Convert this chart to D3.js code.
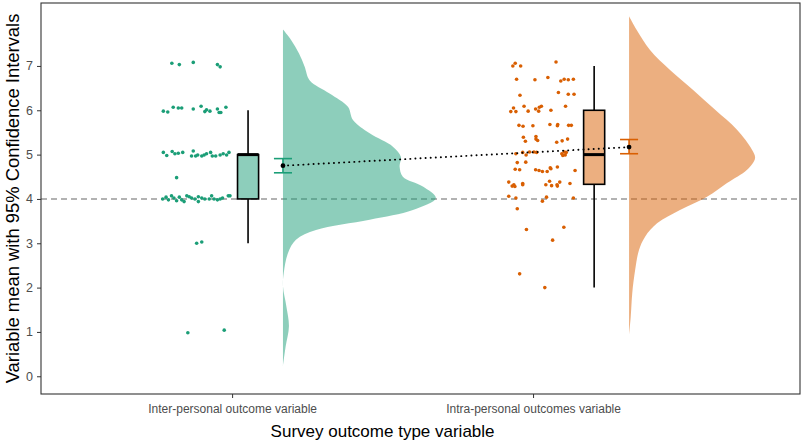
<!DOCTYPE html>
<html>
<head>
<meta charset="utf-8">
<script src="https://cdn.jsdelivr.net/npm/d3@7"></script>
<style>
  body { margin: 0; background: #fff; }
  svg { font-family: "Liberation Sans", Arial, sans-serif; }
</style>
</head>
<body>
<script>
// groups and their colours
var groups = ["Inter-personal outcome variable", "Intra-personal outcomes variable"];
var colors = ["#1b9e77", "#d95f02"];

// raw scores, [jitter (-1..1), score]
var interPoints = [
  [-0.71, 7.06], [-0.49, 7.03], [-0.08, 7.08], [0.63, 7.03], [0.71, 6.98],
  [-0.96, 5.98], [-0.83, 5.96], [-0.67, 6.07], [-0.52, 6.05], [-0.42, 6.05], [-0.08, 6.03],
  [0.15, 6.09], [0.26, 5.97], [0.31, 6.01], [0.41, 5.98], [0.63, 6.03], [0.68, 5.95],
  [0.73, 5.95], [0.88, 6.07],
  [-0.96, 5.05], [-0.86, 4.98], [-0.70, 5.07], [-0.62, 5.02], [-0.52, 5.03], [-0.39, 5.05],
  [-0.08, 5.08], [-0.13, 4.97], [-0.01, 4.97], [0.05, 4.99], [0.17, 4.97], [0.24, 4.99],
  [0.31, 5.02], [0.43, 5.05], [0.48, 4.97], [0.58, 4.97], [0.71, 4.99], [0.80, 5.02],
  [0.90, 4.99], [0.97, 5.05],
  [-0.57, 4.48],
  [-0.98, 4.00], [-0.88, 4.04], [-0.81, 3.98], [-0.72, 4.07], [-0.65, 4.02], [-0.57, 3.96],
  [-0.49, 4.04], [-0.42, 3.98], [-0.35, 3.94], [-0.27, 4.07], [-0.20, 4.05], [-0.13, 4.02],
  [-0.03, 4.00], [0.07, 4.05], [0.07, 3.94], [0.17, 4.02], [0.26, 4.00], [0.39, 4.00],
  [0.46, 4.07], [0.53, 4.00], [0.63, 3.98], [0.71, 4.00], [0.78, 4.02], [0.95, 4.07], [1.00, 4.07],
  [0.02, 3.00], [0.17, 3.03],
  [-0.24, 0.98], [0.83, 1.04]
];
var intraPoints = [
  [-0.79, 7.06], [-0.86, 7.00], [-0.63, 7.00], [0.41, 7.09],
  [-0.75, 6.70], [-0.21, 6.69], [0.17, 6.74], [0.55, 6.66], [0.65, 6.70], [0.77, 6.69], [0.92, 6.70],
  [-0.65, 6.34], [0.48, 6.40], [0.77, 6.36], [0.94, 6.36],
  [-0.84, 6.05], [-0.92, 5.97], [-0.77, 5.97], [-0.53, 6.09], [-0.41, 5.98], [-0.19, 6.03],
  [-0.08, 6.07], [-0.02, 6.09], [-0.10, 5.98], [0.26, 6.00], [0.69, 6.09],
  [-0.68, 5.66], [-0.56, 5.64], [-0.27, 5.65], [0.23, 5.68], [0.46, 5.68], [0.45, 5.65],
  [0.78, 5.66], [0.86, 5.66],
  [-0.55, 5.39], [-0.49, 5.30], [-0.18, 5.41], [-0.18, 5.35], [-0.13, 5.32], [0.43, 5.28],
  [0.59, 5.31], [0.75, 5.35],
  [-0.77, 5.02], [-0.57, 5.05], [-0.47, 4.99], [-0.37, 5.06], [-0.24, 5.06], [-0.16, 5.05],
  [0.58, 5.02], [0.65, 5.06], [0.68, 4.99], [0.61, 4.98], [0.71, 5.05],
  [-0.73, 4.82], [-0.48, 4.83],
  [-0.79, 4.67], [-0.66, 4.66], [-0.19, 4.66], [-0.09, 4.64], [0.01, 4.62], [0.15, 4.62],
  [0.24, 4.70], [0.26, 4.68], [0.45, 4.72], [0.97, 4.64],
  [-0.98, 4.38], [-0.88, 4.29], [-0.83, 4.32], [-0.80, 4.28], [-0.57, 4.35], [-0.57, 4.32],
  [0.11, 4.32], [0.22, 4.40], [0.28, 4.30], [0.44, 4.32], [0.45, 4.29], [0.52, 4.38], [0.82, 4.35],
  [-0.98, 4.06], [-0.77, 4.02], [0.01, 3.95], [0.13, 4.04], [0.92, 4.02],
  [-0.73, 3.78], [-0.46, 3.31], [0.64, 3.36], [0.31, 3.07], [-0.66, 2.31], [0.08, 2.00]
];

// half-violin density, [score, relative density]
var interDensity = [
  [7.82, 0], [7.58, 0.054], [7.28, 0.105], [6.98, 0.142], [6.68, 0.174], [6.38, 0.305],
  [6.08, 0.425], [5.78, 0.458], [5.48, 0.567], [5.18, 0.719], [4.95, 0.771], [4.73, 0.763],
  [4.50, 0.784], [4.28, 0.915], [4.02, 1.0], [3.75, 0.85], [3.53, 0.567], [3.30, 0.216],
  [3.08, 0.085], [2.78, 0.033], [2.33, 0.005], [2.03, 0], [1.58, 0.022], [1.13, 0.039],
  [0.68, 0.018], [0.23, 0]
];
var intraDensity = [
  [8.12, 0], [7.81, 0.050], [7.36, 0.137], [6.91, 0.268], [6.46, 0.419], [6.01, 0.563],
  [5.56, 0.706], [5.11, 0.804], [4.92, 0.824], [4.66, 0.772], [4.36, 0.641], [4.05, 0.510],
  [3.75, 0.333], [3.45, 0.183], [3.15, 0.105], [2.85, 0.065], [2.40, 0.040], [1.88, 0.021],
  [1.35, 0.011], [0.94, 0]
];

// box plot stats
var q1 = [4, 4.33], median = [5, 5], q3 = [5, 6];
var whiskLo = [3, 2], whiskHi = [6, 7];

// means with 95% CI
var means = [4.75, 5.17];
var ciLo = [4.59, 5.02];
var ciHi = [4.91, 5.34];

var yTicks = [0, 1, 2, 3, 4, 5, 6, 7];
var refLine = 4;

var points = [interPoints, intraPoints];
var dens = [interDensity, intraDensity];

var W = 804, H = 442;
var panel = {left: 41, right: 800, top: 3, bottom: 394};

var x = d3.scaleLinear().domain([0.365, 2.887]).range([panel.left, panel.right]);
var y = d3.scaleLinear().domain([-0.4, 8.42]).range([panel.bottom, panel.top]);

// where each cloud sits on the x scale
var base = [0.88, 2.03];
var jitW = 0.113, boxOff = 0.173, boxHalf = 0.035, meanOff = 0.289, capHalf = 0.03, densW = 0.508;

var svg = d3.select("body").append("svg")
  .attr("width", W).attr("height", H);

// dashed reference line
svg.append("line")
  .attr("x1", panel.left).attr("x2", panel.right)
  .attr("y1", y(refLine)).attr("y2", y(refLine))
  .attr("stroke", "#666").attr("stroke-width", 1.1)
  .attr("stroke-dasharray", "6,4");

groups.forEach(function(g, i) {
  var col = colors[i];
  var b = base[i];

  // half violin
  var area = d3.area()
    .curve(d3.curveCatmullRom.alpha(0.5))
    .y(function(d) { return y(d[0]); })
    .x0(x(b + meanOff))
    .x1(function(d) { return x(b + meanOff + d[1] * densW); });
  svg.append("path")
    .datum(dens[i])
    .attr("d", area)
    .attr("fill", col).attr("fill-opacity", 0.5);

  // jittered raw points
  svg.append("g").selectAll("circle")
    .data(points[i])
    .enter().append("circle")
    .attr("cx", function(d) { return x(b + d[0] * jitW); })
    .attr("cy", function(d) { return y(d[1]); })
    .attr("r", 1.8)
    .attr("fill", col);

  // box plot
  var bx = b + boxOff;
  var box = svg.append("g");
  box.append("line")
    .attr("x1", x(bx)).attr("x2", x(bx))
    .attr("y1", y(whiskHi[i])).attr("y2", y(q3[i]))
    .attr("stroke", "#000").attr("stroke-width", 1.6);
  box.append("line")
    .attr("x1", x(bx)).attr("x2", x(bx))
    .attr("y1", y(q1[i])).attr("y2", y(whiskLo[i]))
    .attr("stroke", "#000").attr("stroke-width", 1.6);
  box.append("rect")
    .attr("x", x(bx - boxHalf)).attr("width", x(bx + boxHalf) - x(bx - boxHalf))
    .attr("y", y(q3[i])).attr("height", y(q1[i]) - y(q3[i]))
    .attr("fill", col).attr("fill-opacity", 0.5)
    .attr("stroke", "#000").attr("stroke-width", 1.6);
  box.append("line")
    .attr("x1", x(bx - boxHalf)).attr("x2", x(bx + boxHalf))
    .attr("y1", y(median[i])).attr("y2", y(median[i]))
    .attr("stroke", "#000").attr("stroke-width", 3);

  // error bar
  var mx = b + meanOff;
  var eb = svg.append("g").attr("stroke", col).attr("stroke-width", 1.6);
  eb.append("line")
    .attr("x1", x(mx)).attr("x2", x(mx))
    .attr("y1", y(ciHi[i])).attr("y2", y(ciLo[i]));
  [ciHi[i], ciLo[i]].forEach(function(v) {
    eb.append("line")
      .attr("x1", x(mx - capHalf)).attr("x2", x(mx + capHalf))
      .attr("y1", y(v)).attr("y2", y(v));
  });
});

// dotted line joining means
svg.append("line")
  .attr("x1", x(base[0] + meanOff)).attr("y1", y(means[0]))
  .attr("x2", x(base[1] + meanOff)).attr("y2", y(means[1]))
  .attr("stroke", "#000").attr("stroke-width", 1.9)
  .attr("stroke-linecap", "round")
  .attr("stroke-dasharray", "0.1,5");

svg.append("g").selectAll("circle")
  .data(means)
  .enter().append("circle")
  .attr("cx", function(d, i) { return x(base[i] + meanOff); })
  .attr("cy", function(d) { return y(d); })
  .attr("r", 2.4)
  .attr("fill", "#000");

// axes
var yAxis = d3.axisLeft(y).tickValues(yTicks).tickSize(4).tickPadding(4);
var gy = svg.append("g")
  .attr("transform", "translate(" + panel.left + ",0)")
  .call(yAxis);
gy.select(".domain").remove();
gy.selectAll("line").attr("stroke", "#333");
gy.selectAll("text").attr("fill", "#4d4d4d").style("font-size", "12.5px");

var xAxis = d3.axisBottom(x).tickValues([1, 2])
  .tickFormat(function(d) { return groups[d - 1]; })
  .tickSize(4).tickPadding(6);
var gx = svg.append("g")
  .attr("transform", "translate(0," + panel.bottom + ")")
  .call(xAxis);
gx.select(".domain").remove();
gx.selectAll("line").attr("stroke", "#333");
gx.selectAll("text").attr("fill", "#4d4d4d").style("font-size", "12px");

// panel border
svg.append("rect")
  .attr("x", panel.left).attr("y", panel.top)
  .attr("width", panel.right - panel.left).attr("height", panel.bottom - panel.top)
  .attr("fill", "none").attr("stroke", "#333").attr("stroke-width", 1.1);

// titles
svg.append("text")
  .attr("x", (x(1) + x(2)) / 2).attr("y", 437)
  .attr("text-anchor", "middle")
  .style("font-size", "17px")
  .text("Survey outcome type variable");

svg.append("text")
  .attr("transform", "translate(19," + ((panel.top + panel.bottom) / 2) + ") rotate(-90)")
  .attr("text-anchor", "middle")
  .style("font-size", "18.4px")
  .text("Variable mean with 95% Confidence Intervals");
</script>
</body>
</html>
